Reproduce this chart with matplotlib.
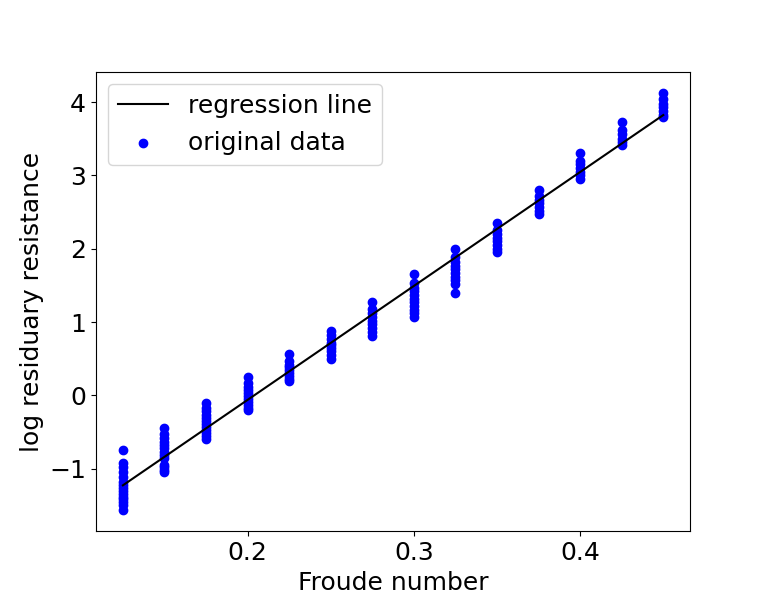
import matplotlib
matplotlib.use("Agg")
import matplotlib.pyplot as plt
import numpy as np

froude = [0.125, 0.15, 0.175, 0.2, 0.225, 0.25, 0.275,
          0.3, 0.325, 0.35, 0.375, 0.4, 0.425, 0.45]
logResistance = [
    [-0.75, -0.92, -0.98, -1.05, -1.12, -1.18, -1.22, -1.27, -1.3, -1.34, -1.38, -1.42, -1.46, -1.5, -1.57],
    [-0.45, -0.53, -0.58, -0.63, -0.68, -0.72, -0.77, -0.82, -0.86, -0.95, -0.98, -1.02, -1.05],
    [-0.11, -0.17, -0.22, -0.27, -0.31, -0.35, -0.39, -0.43, -0.47, -0.52, -0.56, -0.6],
    [0.25, 0.17, 0.12, 0.07, 0.03, -0.01, -0.05, -0.09, -0.13, -0.17, -0.2],
    [0.57, 0.47, 0.42, 0.38, 0.34, 0.3, 0.26, 0.22, 0.2],
    [0.88, 0.82, 0.77, 0.72, 0.68, 0.64, 0.6, 0.55, 0.49],
    [1.27, 1.18, 1.12, 1.07, 1.02, 0.97, 0.92, 0.87, 0.81],
    [1.66, 1.53, 1.47, 1.42, 1.37, 1.32, 1.27, 1.22, 1.17, 1.12, 1.07],
    [1.99, 1.88, 1.82, 1.77, 1.72, 1.67, 1.62, 1.57, 1.52, 1.4],
    [2.35, 2.26, 2.2, 2.15, 2.1, 2.05, 2.0, 1.95],
    [2.8, 2.72, 2.67, 2.62, 2.57, 2.52, 2.47],
    [3.31, 3.2, 3.15, 3.1, 3.05, 3.0, 2.95],
    [3.73, 3.62, 3.56, 3.5, 3.45, 3.41],
    [4.13, 4.04, 3.98, 3.93, 3.88, 3.83, 3.79],
]

# Koeffizienten der Regressionsgeraden
slope = 15.54
intercept = -3.17

# Punkte zu flachen Arrays zusammenfuegen
xData = np.concatenate([[f] * len(v) for f, v in zip(froude, logResistance)])
yData = np.concatenate(logResistance)

plt.rcParams['font.size'] = 18
fig = plt.figure(figsize=(7.67, 5.97), dpi=100)
ax = fig.add_subplot(111)

xLine = np.array([min(froude), max(froude)])
ax.plot(xLine, slope * xLine + intercept, color='black', label='regression line')
ax.scatter(xData, yData, color='blue', label='original data')

ax.set_xlabel('Froude number')
ax.set_ylabel('log residuary resistance')
ax.legend(loc='upper left')

fig.savefig('out.png', dpi=100)
